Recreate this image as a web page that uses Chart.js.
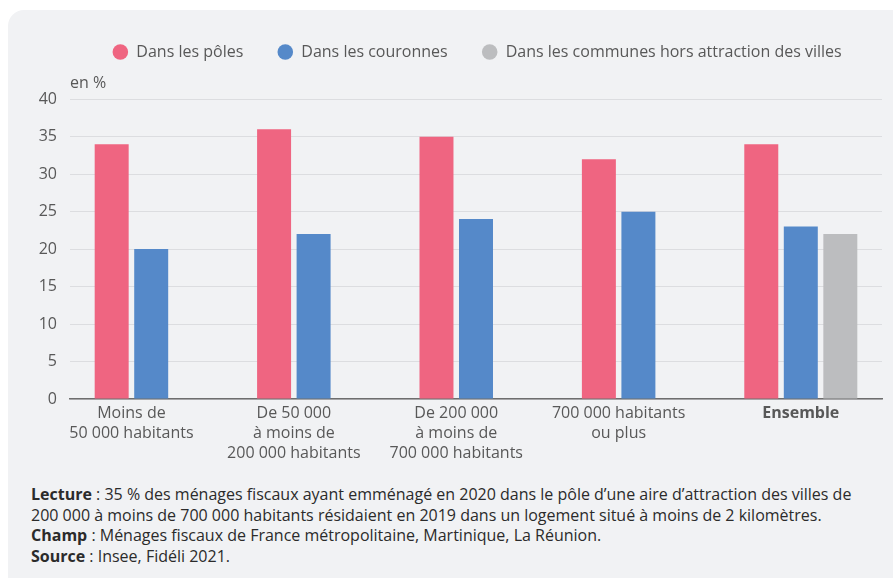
<!DOCTYPE html>
<html lang="fr">
<head>
<meta charset="utf-8">
<script src="https://cdn.jsdelivr.net/npm/chart.js@4"></script>
<style>
  html, body { margin: 0; padding: 0; background: #fff; overflow: hidden; }
  body { width: 893px; height: 578px; position: relative; font-family: "Open Sans", sans-serif; }
  .panel { position: absolute; left: 8px; top: 10px; width: 960px; height: 600px; background: #f1f2f4; border-radius: 16px; }
  .chart-box { position: absolute; left: 8px; top: 10px; width: 938px; height: 460px; }
  .notes { position: absolute; left: 31px; top: 484px; font-size: 16px; line-height: 20.5px; color: #2b2b2b; }
  .notes p { margin: 0; }
</style>
</head>
<body>
<div class="panel"></div>
<div class="chart-box"><canvas id="chart"></canvas></div>
<div class="notes">
  <p><b>Lecture</b> : 35 % des ménages fiscaux ayant emménagé en 2020 dans le pôle d’une aire d’attraction des villes de<br>200 000 à moins de 700 000 habitants résidaient en 2019 dans un logement situé à moins de 2 kilomètres.</p>
  <p><b>Champ</b> : Ménages fiscaux de France métropolitaine, Martinique, La Réunion.</p>
  <p><b>Source</b> : Insee, Fidéli 2021.</p>
</div>
<script>
// ---------- data ----------
const categories = [
  ['Moins de', '50 000 habitants'],
  ['De 50 000', 'à moins de', '200 000 habitants'],
  ['De 200 000', 'à moins de', '700 000 habitants'],
  ['700 000 habitants', 'ou plus'],
  ['Ensemble']
];
const seriesNames = ['Dans les pôles', 'Dans les couronnes', 'Dans les communes hors attraction des villes'];
const poles = [34, 36, 35, 32, 34];
const couronnes = [20, 22, 24, 25, 23];
const horsAttraction = [null, null, null, null, 22];
const yTicks = [0, 5, 10, 15, 20, 25, 30, 35, 40];

const FONT = '"Open Sans", sans-serif';
const TEXT = '#585858';

// x labels sit under the bars actually drawn in each group
const xLabels = {
  id: 'xLabels',
  afterDraw(chart) {
    const ctx = chart.ctx;
    const area = chart.chartArea;
    ctx.save();
    ctx.fillStyle = TEXT;
    ctx.textAlign = 'center';
    ctx.textBaseline = 'middle';
    categories.forEach((lines, i) => {
      const xs = [];
      chart.data.datasets.forEach((ds, d) => {
        if (ds.data[i] != null) xs.push(chart.getDatasetMeta(d).data[i].x);
      });
      const cx = xs.reduce((a, b) => a + b, 0) / xs.length;
      ctx.font = (i === categories.length - 1 ? 'bold ' : '') + '16px ' + FONT;
      lines.forEach((line, j) => ctx.fillText(line, cx, area.bottom + 14 + j * 20));
    });
    ctx.restore();
  }
};

new Chart(document.getElementById('chart'), {
  type: 'bar',
  data: {
    labels: categories.map(c => c.join(' ')),
    datasets: [
      { label: seriesNames[0], data: poles, backgroundColor: '#ef6581' },
      { label: seriesNames[1], data: couronnes, backgroundColor: '#5589c9' },
      { label: seriesNames[2], data: horsAttraction, backgroundColor: '#bcbdbf' }
    ]
  },
  options: {
    responsive: true,
    maintainAspectRatio: false,
    animation: false,
    categoryPercentage: 0.73,
    barPercentage: 0.86,
    layout: { padding: 0 },
    plugins: {
      legend: {
        position: 'top',
        labels: {
          usePointStyle: true,
          pointStyle: 'circle',
          boxHeight: 11,
          padding: 34,
          color: TEXT,
          font: { family: FONT, size: 16 }
        }
      },
      // unit label, placed between the legend and the plot
      title: {
        display: true,
        text: 'en %',
        align: 'start',
        position: 'top',
        fullSize: false,
        weight: 500,
        color: TEXT,
        font: { family: FONT, size: 16, weight: 'normal' },
        padding: { top: 4, bottom: 6 }
      },
      tooltip: { enabled: false }
    },
    scales: {
      x: {
        grid: { display: false },
        border: { display: true, color: '#6e6e6e', width: 1.5 },
        ticks: { display: false },
        afterFit: s => { s.height = 71; }
      },
      y: {
        min: 0,
        max: 40,
        afterBuildTicks: s => { s.ticks = yTicks.map(v => ({ value: v })); },
        grid: { color: '#dcdde0', drawTicks: false },
        border: { display: false },
        ticks: { color: TEXT, padding: 13, font: { family: FONT, size: 16 } },
        afterFit: s => { s.width = 62; }
      },
      spacer: {
        position: 'right',
        display: true,
        grid: { display: false },
        border: { display: false },
        ticks: { display: false },
        afterFit: s => { s.width = 64; }
      }
    }
  },
  plugins: [xLabels]
});
</script>
</body>
</html>
